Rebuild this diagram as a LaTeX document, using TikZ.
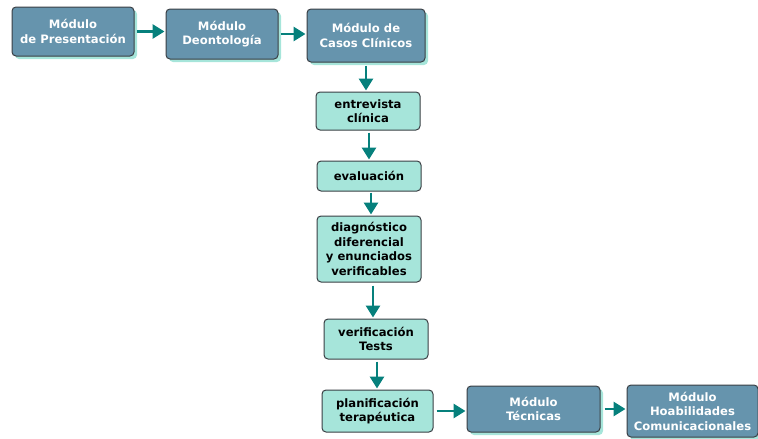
\documentclass[tikz,border=0pt]{standalone}
\usepackage{fontspec}
\setmainfont{DejaVu Sans}
\usetikzlibrary{shadows,arrows.meta}
\definecolor{modblue}{HTML}{6694AD}
\definecolor{paso}{HTML}{A6E5DA}
\definecolor{flecha}{HTML}{06807C}
\definecolor{borde}{HTML}{3A3F44}
\tikzset{
	modulo/.style={draw=borde,line width=1pt,rounded corners=4pt,fill=modblue,text=white,
		font=\fontsize{11.6}{14.5}\selectfont\bfseries,align=center,inner sep=0pt,
		drop shadow={shadow xshift=3pt,shadow yshift=-3pt,fill=paso,opacity=1}},
	pasobox/.style={draw=borde,line width=1pt,rounded corners=4pt,fill=paso,text=black,
		font=\fontsize{11.6}{14.5}\selectfont\bfseries,align=center,inner sep=0pt},
	flechas/.style={draw=flecha,line width=2.8pt,-{Triangle[length=12pt,width=14pt]},shorten >=1pt}
}
\begin{document}
\begin{tikzpicture}[x=1pt,y=-1pt]
	\useasboundingbox (0,0) rectangle (758,439);
	% modulos de arriba
	\node[modulo,minimum width=122pt,minimum height=49pt] (pres) at (73,31.5) {Módulo\\de Presentación};
	\node[modulo,minimum width=112pt,minimum height=50pt] (deon) at (222,34) {Módulo\\Deontología};
	\node[modulo,minimum width=118pt,minimum height=53pt] (casos) at (366,35.5) {Módulo de\\Casos Clínicos};
	% pasos
	\node[pasobox,minimum width=104pt,minimum height=38pt] (entre) at (368,111) {entrevista\\clínica};
	\node[pasobox,minimum width=104pt,minimum height=30pt] (eval) at (369,176) {evaluación};
	\node[pasobox,minimum width=104pt,minimum height=66pt] (diag) at (369,249) {diagnóstico\\diferencial\\y enunciados\\verificables};
	\node[pasobox,minimum width=104pt,minimum height=40pt] (verif) at (376,339) {verificación\\Tests};
	\node[pasobox,minimum width=111pt,minimum height=42pt] (plan) at (377.5,411) {planificación\\terapéutica};
	% modulos de abajo
	\node[modulo,minimum width=133pt,minimum height=46pt] (tec) at (533.5,409) {Módulo\\Técnicas};
	\node[modulo,minimum width=131pt,minimum height=52pt] (hab) at (692.5,411) {Módulo\\Hoabilidades\\Comunicacionales};
	% flechas
	\draw[flechas] (pres.east) ++(2,0) coordinate (p1) -- (p1 -| deon.west);
	\draw[flechas] (deon.east) ++(2,0) coordinate (p2) -- (p2 -| casos.west);
	\draw[flechas] (casos.south) ++(0,3) coordinate (p3) -- (p3 |- entre.north);
	\draw[flechas] (entre.south) ++(1,2) coordinate (p4) -- (p4 |- eval.north);
	\draw[flechas] (eval.south) ++(2,1) coordinate (p5) -- (p5 |- diag.north);
	\draw[flechas] (diag.south) ++(4,3) coordinate (p6) -- (p6 |- verif.north);
	\draw[flechas] (verif.south) ++(1,2) coordinate (p7) -- (p7 |- plan.north);
	\draw[flechas] (plan.east) ++(3,0) coordinate (p8) -- (p8 -| tec.west);
	\draw[flechas] (tec.east) ++(4,0) coordinate (p9) -- (p9 -| hab.west);
\end{tikzpicture}
\end{document}
